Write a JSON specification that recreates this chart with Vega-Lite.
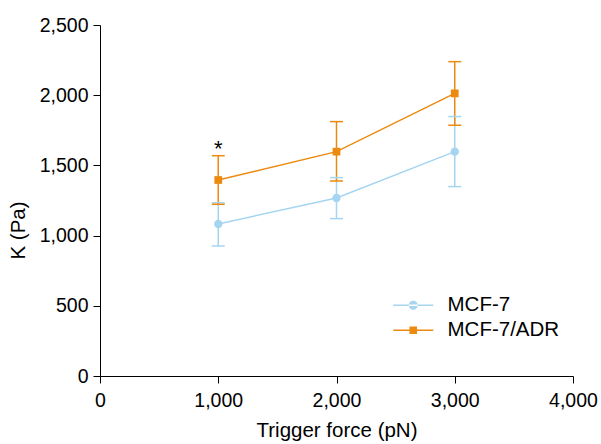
{
  "$schema": "https://vega.github.io/schema/vega-lite/v6.json",
  "width": 473,
  "height": 351,
  "autosize": "none",
  "padding": {"left": 100, "top": 25, "right": 28, "bottom": 68},
  "config": {
    "font": "Liberation Sans",
    "view": {"stroke": null},
    "axis": {
      "grid": false,
      "domainColor": "#000000",
      "domainWidth": 1,
      "tickColor": "#000000",
      "tickWidth": 1,
      "tickSize": 7,
      "labelColor": "#000000",
      "titleColor": "#000000",
      "labelFontSize": 19.5,
      "titleFontSize": 20.5,
      "titleFontWeight": "normal",
      "labelFlush": false
    }
  },
  "datasets": {
    "points": [
      {"force": 1000, "group": "MCF-7", "mean": 1083, "lo": 926, "hi": 1234},
      {"force": 2000, "group": "MCF-7", "mean": 1268, "lo": 1121, "hi": 1413},
      {"force": 3000, "group": "MCF-7", "mean": 1598, "lo": 1349, "hi": 1848},
      {"force": 1000, "group": "MCF-7/ADR", "mean": 1396, "lo": 1223, "hi": 1569},
      {"force": 2000, "group": "MCF-7/ADR", "mean": 1598, "lo": 1389, "hi": 1812},
      {"force": 3000, "group": "MCF-7/ADR", "mean": 2013, "lo": 1786, "hi": 2239}
    ],
    "notes": [
      {"force": 1000, "k": 1615, "label": "*"}
    ]
  },
  "encoding": {
    "x": {
      "field": "force",
      "type": "quantitative",
      "scale": {"domain": [0, 4000], "nice": false},
      "axis": {"values": [0, 1000, 2000, 3000, 4000], "format": ",d", "title": "Trigger force (pN)", "labelPadding": 8, "titlePadding": 11}
    },
    "color": {
      "field": "group",
      "type": "nominal",
      "scale": {"domain": ["MCF-7", "MCF-7/ADR"], "range": ["#a6d5f1", "#ec8a0f"]},
      "legend": {
        "title": null,
        "orient": "none",
        "legendX": 303,
        "legendY": 270,
        "padding": 0,
        "symbolSize": 400,
        "symbolOpacity": 1,
        "symbolStrokeWidth": 0,
        "labelFontSize": 20.5,
        "labelColor": "#000000",
        "labelOffset": 24,
        "rowPadding": 4,
        "encode": {
          "symbols": {
            "update": {
              "shape": {"signal": "datum.value === 'MCF-7' ? 'M-2,-0.075L2,-0.075L2,0.075L-2,0.075Z M-0.45,0 A0.45,0.45 0 1,0 0.45,0 A0.45,0.45 0 1,0 -0.45,0 Z' : 'M-2,-0.075L2,-0.075L2,0.075L-2,0.075Z M-0.38,-0.38L0.38,-0.38L0.38,0.38L-0.38,0.38Z'"},
              "fill": {"signal": "scale('color', datum.value)"},
              "strokeWidth": {"value": 0},
              "opacity": {"value": 1}
            }
          }
        }
      }
    }
  },
  "layer": [
    {
      "data": {"name": "points"},
      "mark": {"type": "rule", "strokeWidth": 1.5},
      "encoding": {
        "y": {
          "field": "lo",
          "type": "quantitative",
          "scale": {"domain": [0, 2500], "nice": false},
          "axis": {"values": [0, 500, 1000, 1500, 2000, 2500], "format": ",d", "title": "K (Pa)", "titleY": 205, "labelPadding": 5, "titlePadding": 11}
        },
        "y2": {"field": "hi"}
      }
    },
    {
      "data": {"name": "points"},
      "mark": {"type": "tick", "orient": "horizontal", "size": 13, "thickness": 1.5, "opacity": 1},
      "encoding": {
        "y": {"field": "hi", "type": "quantitative"}
      }
    },
    {
      "data": {"name": "points"},
      "mark": {"type": "tick", "orient": "horizontal", "size": 13, "thickness": 1.5, "opacity": 1},
      "encoding": {
        "y": {"field": "lo", "type": "quantitative"}
      }
    },
    {
      "data": {"name": "points"},
      "mark": {"type": "line", "strokeWidth": 1.5},
      "encoding": {
        "y": {"field": "mean", "type": "quantitative"}
      }
    },
    {
      "data": {"name": "points"},
      "transform": [{"filter": "datum.group === 'MCF-7'"}],
      "mark": {"type": "point", "shape": "circle", "filled": true, "opacity": 1, "size": 70},
      "encoding": {
        "y": {"field": "mean", "type": "quantitative"}
      }
    },
    {
      "data": {"name": "points"},
      "transform": [{"filter": "datum.group === 'MCF-7/ADR'"}],
      "mark": {"type": "point", "shape": "square", "filled": true, "opacity": 1, "size": 60},
      "encoding": {
        "y": {"field": "mean", "type": "quantitative"}
      }
    },
    {
      "data": {"name": "notes"},
      "mark": {"type": "text", "fontSize": 22, "baseline": "middle"},
      "encoding": {
        "y": {"field": "k", "type": "quantitative"},
        "text": {"field": "label"},
        "color": {"value": "#000000"}
      }
    }
  ]
}
